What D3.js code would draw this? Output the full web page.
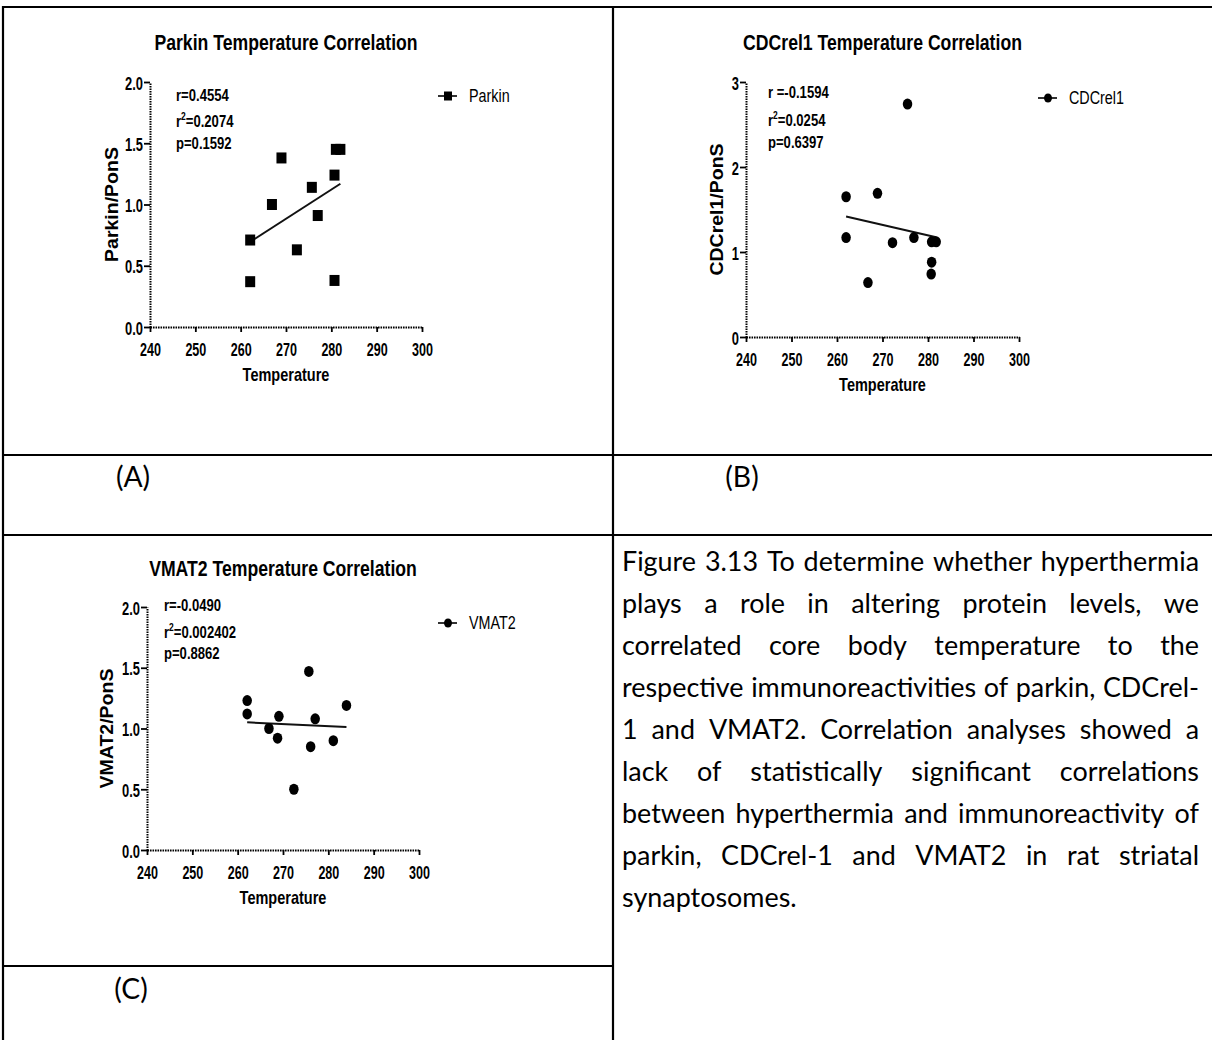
<!DOCTYPE html>
<html>
<head>
<meta charset="utf-8">
<script src="https://cdn.jsdelivr.net/npm/d3@7"></script>
<style>
  body { margin: 0; background: #fff; }
  svg { display: block; }
</style>
</head>
<body>
<svg width="1212" height="1040"></svg>
<script>
// ---- data ----
var tempTicks = [240, 250, 260, 270, 280, 290, 300];

var parkinTemp  = [262.1, 262.1, 266.9, 269.0, 272.4, 275.7, 277.0, 280.7, 280.7, 281.0, 282.0];
var parkinRatio = [0.71, 0.37, 1.00, 1.38, 0.63, 1.14, 0.91, 1.24, 0.38, 1.45, 1.45];
var parkinTicks = [0, 0.5, 1.0, 1.5, 2.0];
var parkinStats = ["r=0.4554", "=0.2074", "p=0.1592"];

var cdcTemp  = [262.0, 262.0, 266.8, 268.9, 272.2, 275.5, 276.9, 280.7, 280.8, 280.8, 281.8];
var cdcRatio = [1.65, 1.17, 0.64, 1.69, 1.11, 2.74, 1.17, 0.74, 0.88, 1.12, 1.12];
var cdcTicks = [0, 1, 2, 3];
var cdcStats = ["r =-0.1594", "=0.0254", "p=0.6397"];

var vmatTemp  = [262.1, 262.1, 266.9, 268.8, 269.1, 272.4, 275.7, 276.1, 277.1, 281.1, 284.0];
var vmatRatio = [1.23, 1.12, 1.00, 0.92, 1.10, 0.50, 1.47, 0.85, 1.08, 0.90, 1.19];
var vmatTicks = [0, 0.5, 1.0, 1.5, 2.0];
var vmatStats = ["r=-0.0490", "=0.002402", "p=0.8862"];

var captionLines = [
  "Figure 3.13 To determine whether hyperthermia",
  "plays a role in altering protein levels, we",
  "correlated core body temperature to the",
  "respective immunoreactivities of parkin, CDCrel-",
  "1 and VMAT2. Correlation analyses showed a",
  "lack of statistically significant correlations",
  "between hyperthermia and immunoreactivity of",
  "parkin, CDCrel-1 and VMAT2 in rat striatal",
  "synaptosomes."
];
var panelLetters = ["(A)", "(B)", "(C)"];

var svg = d3.select("svg");
var prismFont = "'Liberation Sans', Arial, Helvetica, sans-serif";
var docFont = "Lato, 'Open Sans', 'Noto Sans', sans-serif";

// table frame
var frame = svg.append("g").attr("stroke", "#000").attr("stroke-width", 2.2);
[[3, 7, 1212, 7], [3, 455, 1212, 455], [3, 535, 1212, 535], [3, 966, 613, 966],
 [3, 6, 3, 1040], [613, 6, 613, 1040]].forEach(function(l) {
  frame.append("line").attr("x1", l[0]).attr("y1", l[1]).attr("x2", l[2]).attr("y2", l[3]);
});

// text squeezed horizontally like the exported Prism graphs
function squeezeText(parent, x, y, str, size, sx, anchor, weight) {
  return parent.append("text")
    .attr("transform", "translate(" + x + "," + y + ") scale(" + sx + ",1)")
    .attr("text-anchor", anchor || "start")
    .style("font-family", prismFont)
    .style("font-size", size + "px")
    .style("font-weight", weight || "bold")
    .style("fill", "#000")
    .text(str);
}

function addMarker(sel, kind, w, h) {
  if (kind == "square") {
    sel.append("rect").attr("x", -w / 2).attr("y", -h / 2).attr("width", w).attr("height", h).attr("fill", "#000");
  } else {
    sel.append("ellipse").attr("rx", w / 2).attr("ry", h / 2).attr("fill", "#000");
  }
}

function fitLine(xs, ys) {
  var mx = d3.mean(xs), my = d3.mean(ys);
  var sxy = d3.sum(xs, function(v, i) { return (v - mx) * (ys[i] - my); });
  var sxx = d3.sum(xs, function(v) { return (v - mx) * (v - mx); });
  var b = sxy / sxx;
  return function(t) { return my + b * (t - mx); };
}

function drawPanel(p) {
  var g = svg.append("g");
  var x = d3.scaleLinear().domain([240, 300]).range([p.x0, p.x1]);
  var y = d3.scaleLinear().domain([0, p.yMax]).range([p.y0, p.y1]);

  var xAxis = g.append("g").attr("transform", "translate(0," + p.y0 + ")")
    .call(d3.axisBottom(x).tickValues(tempTicks).tickSize(5).tickSizeOuter(0).tickFormat(d3.format("d")));
  var yAxis = g.append("g").attr("transform", "translate(" + p.x0 + ",0)")
    .call(d3.axisLeft(y).tickValues(p.ticks).tickSize(6).tickSizeOuter(0).tickFormat(d3.format(p.fmt)));

  g.selectAll(".domain").attr("stroke", "#000").attr("stroke-width", 2).attr("stroke-dasharray", "1.6,0.9");
  g.selectAll(".tick line").attr("stroke", "#000").attr("stroke-width", 1.8);

  xAxis.selectAll(".tick text")
    .attr("y", null).attr("dy", null)
    .attr("transform", "translate(0,29) scale(0.66,1)")
    .attr("text-anchor", "middle")
    .style("font-family", prismFont).style("font-size", "19px").style("font-weight", "bold").style("fill", "#000");
  yAxis.selectAll(".tick text")
    .attr("x", null).attr("dy", null)
    .attr("transform", "translate(-7,7) scale(0.68,1)")
    .attr("text-anchor", "end")
    .style("font-family", prismFont).style("font-size", "19px").style("font-weight", "bold").style("fill", "#000");

  // regression line
  var f = fitLine(p.temps, p.vals);
  var t0 = d3.min(p.temps), t1 = d3.max(p.temps);
  g.append("line")
    .attr("x1", x(t0)).attr("y1", y(f(t0)))
    .attr("x2", x(t1)).attr("y2", y(f(t1)))
    .attr("stroke", "#111").attr("stroke-width", 2);

  // points
  var pts = p.temps.map(function(t, i) { return { t: t, v: p.vals[i] }; });
  g.selectAll(".pt").data(pts).enter().append("g")
    .attr("class", "pt")
    .attr("transform", function(d) { return "translate(" + x(d.t) + "," + y(d.v) + ")"; })
    .each(function() { addMarker(d3.select(this), p.marker, p.marker == "square" ? 10 : 9.5, 11); });

  // title and axis labels
  var cx = (p.x0 + p.x1) / 2;
  squeezeText(g, cx, p.titleY, p.title, 21.5, 0.82, "middle");
  squeezeText(g, cx, p.y0 + 54, "Temperature", 17.7, 0.82, "middle");
  g.append("text")
    .attr("transform", "translate(" + p.yLabelX + "," + (p.y0 + p.y1) / 2 + ") scale(0.9,1) rotate(-90)")
    .attr("text-anchor", "middle")
    .style("font-family", prismFont).style("font-size", "19.5px").style("font-weight", "bold")
    .text(p.yLabel);

  // r, r^2, p
  squeezeText(g, p.statsX, p.statsY[0], p.stats[0], 17, 0.77);
  var r2 = squeezeText(g, p.statsX, p.statsY[1], "r", 17, 0.77);
  r2.append("tspan").attr("dy", -7).style("font-size", "11px").text("2");
  r2.append("tspan").attr("dy", 7).text(p.stats[1]);
  squeezeText(g, p.statsX, p.statsY[2], p.stats[2], 17, 0.77);

  // legend
  var lg = g.append("g").attr("transform", "translate(" + p.legendX + "," + p.legendY + ")");
  lg.append("line").attr("x1", -10).attr("x2", 9).attr("stroke", "#000").attr("stroke-width", 1.6);
  addMarker(lg, p.marker, 8, 9);
  squeezeText(lg, 21, 6, p.legend, 17.5, 0.82, "start", "normal");
}

drawPanel({
  temps: parkinTemp, vals: parkinRatio, ticks: parkinTicks, fmt: ".1f", yMax: 2,
  x0: 150, x1: 422, y0: 327, y1: 82, marker: "square",
  title: "Parkin Temperature Correlation", titleY: 50, yLabel: "Parkin/PonS", yLabelX: 118,
  stats: parkinStats, statsX: 176, statsY: [101, 127, 149],
  legend: "Parkin", legendX: 448, legendY: 96
});

drawPanel({
  temps: cdcTemp, vals: cdcRatio, ticks: cdcTicks, fmt: "d", yMax: 3,
  x0: 746, x1: 1019, y0: 337, y1: 82, marker: "circle",
  title: "CDCrel1 Temperature Correlation", titleY: 50, yLabel: "CDCrel1/PonS", yLabelX: 723,
  stats: cdcStats, statsX: 768, statsY: [98, 126, 148],
  legend: "CDCrel1", legendX: 1048, legendY: 98
});

drawPanel({
  temps: vmatTemp, vals: vmatRatio, ticks: vmatTicks, fmt: ".1f", yMax: 2,
  x0: 147, x1: 419, y0: 850, y1: 607, marker: "circle",
  title: "VMAT2 Temperature Correlation", titleY: 576, yLabel: "VMAT2/PonS", yLabelX: 113,
  stats: vmatStats, statsX: 164, statsY: [611, 638, 659],
  legend: "VMAT2", legendX: 448, legendY: 623
});

// caption, justified by hand
var cap = svg.append("g").style("font-family", docFont).style("fill", "#000");
var capLeft = 622, capRight = 1199, capTop = 571, capStep = 42;
var probe = cap.append("text").style("font-size", "20px");
var widest = d3.max(captionLines, function(s) { probe.text(s); return probe.node().getComputedTextLength(); });
probe.remove();
var capSize = 20 * (capRight - capLeft - 3) / widest;
cap.style("font-size", capSize + "px");

captionLines.forEach(function(line, i) {
  var words = line.split(" ");
  var yy = capTop + i * capStep;
  var texts = words.map(function(w) { return cap.append("text").attr("y", yy).text(w); });
  var widths = texts.map(function(t) { return t.node().getComputedTextLength(); });
  var last = i == captionLines.length - 1;
  var gap = last ? capSize * 0.23 : (capRight - capLeft - d3.sum(widths)) / (words.length - 1);
  var xx = capLeft;
  texts.forEach(function(t, k) { t.attr("x", xx); xx += widths[k] + gap; });
});

// panel letters
var letters = svg.append("g").style("font-family", docFont).style("font-size", (capSize * 1.05) + "px")
  .attr("text-anchor", "middle").style("fill", "#000");
[[133, 487], [742, 487], [131, 999]].forEach(function(pos, i) {
  letters.append("text").attr("x", pos[0]).attr("y", pos[1]).text(panelLetters[i]);
});
</script>
</body>
</html>
